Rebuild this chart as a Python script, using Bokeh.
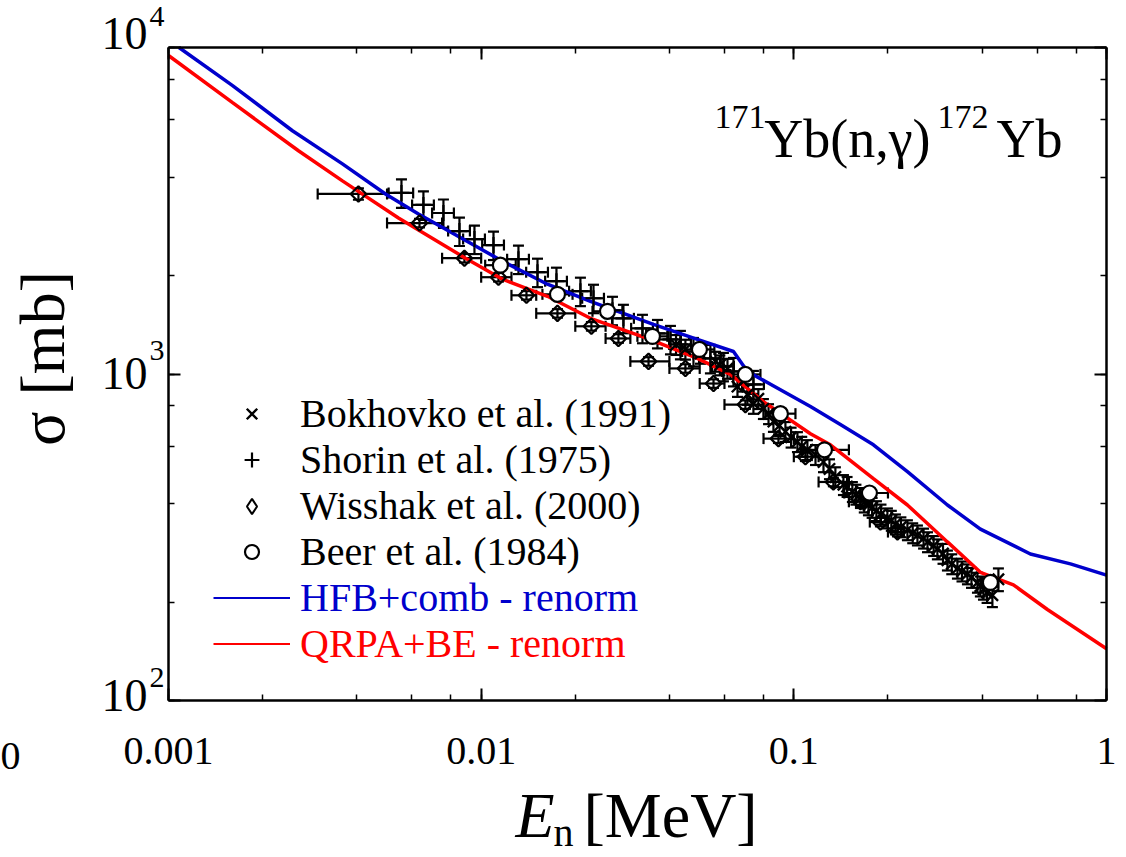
import math
from bokeh.plotting import figure
from bokeh.models import (ColumnDataSource, Whisker, TeeHead, LogAxis, CustomJSTickFormatter,
                          Label, Legend, LegendItem, Range1d)
from bokeh.embed import file_html
from bokeh.resources import INLINE

FONT = "Liberation Serif"
BLUE = "#0000CC"
RED = "#FF0000"

# ---------------- data ----------------
# model curves
hfb_e = [0.00108, 0.001603, 0.002491, 0.0036, 0.004943, 0.006302, 0.0117, 0.01629, 0.02236,
         0.03556, 0.04915, 0.06411, 0.07105, 0.113, 0.1409, 0.1797, 0.2308, 0.3099, 0.3951,
         0.5709, 0.7668, 1.0]
hfb_sigma = [10000, 7640, 5559, 4401, 3560, 3090, 2216, 1884, 1670, 1419, 1276, 1172, 1018,
             795, 700, 607, 502, 397, 335, 281, 262, 242]

qrpa_e = [0.001, 0.001603, 0.002604, 0.0036, 0.005439, 0.008909, 0.0117, 0.01629, 0.02236,
          0.03402, 0.04915, 0.06271, 0.07993, 0.113, 0.1309, 0.1797, 0.2308, 0.3099, 0.3951,
          0.5038, 0.6471, 1.0]
qrpa_sigma = [9450, 6777, 4827, 3904, 3004, 2263, 1951, 1730, 1481, 1285, 1116, 997, 823,
              656, 607, 478, 397, 306, 247, 226, 190, 144]

# Bokhovko et al. (1991)
bok_e = [0.04200, 0.04500, 0.05028, 0.05615, 0.05800, 0.06134, 0.06603, 0.06900, 0.07105,
         0.07426, 0.07700, 0.07993, 0.08300, 0.08605, 0.09000, 0.09399, 0.09800, 0.1027,
         0.1060, 0.1105, 0.1173, 0.1244, 0.1300, 0.1358, 0.1441, 0.1480, 0.1539, 0.1580,
         0.1633, 0.1680, 0.1732, 0.1780, 0.1837, 0.1900, 0.1992, 0.2050, 0.2113, 0.2200,
         0.2308, 0.2400, 0.2485, 0.2600, 0.2676, 0.2800, 0.2878, 0.3000, 0.3099, 0.3200,
         0.3336, 0.3450, 0.3591, 0.3700, 0.3866, 0.3950, 0.4041, 0.4150, 0.4316, 0.4511]
bok_sigma = [1230, 1190, 1156, 1093, 1065, 1040, 915, 950, 865,
             812, 840, 783, 755, 715, 695, 666, 640, 620,
             600, 586, 566, 538, 512, 484, 458, 452, 436, 428,
             418, 405, 397, 390, 381, 372, 362, 356, 347, 340,
             333, 326, 321, 314, 306, 298, 291, 282, 269, 262,
             254, 249, 244, 238, 230, 224, 219, 214, 210, 235]
bok_dsig_rel = [0.07, 0.07, 0.07, 0.07, 0.07, 0.07, 0.07, 0.07, 0.07,
                0.07, 0.07, 0.07, 0.07, 0.07, 0.07, 0.07, 0.07, 0.07,
                0.07, 0.07, 0.07, 0.07, 0.07, 0.07, 0.07, 0.07, 0.07, 0.07,
                0.07, 0.07, 0.07, 0.07, 0.07, 0.07, 0.07, 0.07, 0.07, 0.07,
                0.07, 0.07, 0.07, 0.07, 0.07, 0.07, 0.07, 0.07, 0.07, 0.07,
                0.07, 0.07, 0.07, 0.07, 0.07, 0.07, 0.07, 0.07, 0.08, 0.08]

# Shorin et al. (1975)
sho_e = [0.00556, 0.006536, 0.007574, 0.008522, 0.009518, 0.01095, 0.01316, 0.01514,
         0.01741, 0.02077, 0.02287, 0.0263, 0.02851, 0.0328, 0.03663, 0.04031, 0.04338,
         0.04775, 0.0541, 0.05955, 0.06411, 0.07426]
sho_sigma = [3585, 3294, 3112, 2740, 2589, 2482, 2248, 2050, 1924, 1793, 1706, 1567, 1481,
             1380, 1331, 1276, 1232, 1172, 1116, 1055, 1018, 929]
sho_de_rel = [0.09, 0.08, 0.08, 0.08, 0.08, 0.08, 0.08, 0.08, 0.08, 0.08, 0.08, 0.08, 0.08,
              0.08, 0.08, 0.08, 0.08, 0.08, 0.08, 0.08, 0.08, 0.08]
sho_dsig_rel = [0.10, 0.10, 0.10, 0.10, 0.10, 0.10, 0.10, 0.10, 0.10, 0.10, 0.10, 0.10,
                0.10, 0.10, 0.10, 0.10, 0.10, 0.10, 0.10, 0.10, 0.10, 0.10]

# Wisshak et al. (2000)
wis_e = [0.00405, 0.00635, 0.00884, 0.01136, 0.01396, 0.01754, 0.02252, 0.02748, 0.0343,
         0.0450, 0.05535, 0.0700, 0.0893, 0.1089, 0.1338, 0.1633, 0.1892, 0.2145]
wis_sigma = [3560, 2900, 2263, 1979, 1742, 1534, 1400, 1285, 1093, 1040, 935, 806, 634, 558,
             467, 406, 352, 328]
wis_elo = [0.003, 0.005, 0.0075, 0.010, 0.0125, 0.015, 0.020, 0.025, 0.030, 0.040, 0.050,
           0.060, 0.080, 0.100, 0.120, 0.150, 0.175, 0.200]
wis_ehi = [0.005, 0.0075, 0.010, 0.0125, 0.015, 0.020, 0.025, 0.030, 0.040, 0.050, 0.060,
           0.080, 0.100, 0.120, 0.150, 0.175, 0.200, 0.225]
wis_dsig_rel = [0.04, 0.03, 0.03, 0.03, 0.03, 0.03, 0.03, 0.03, 0.03, 0.03, 0.03, 0.03,
                0.03, 0.03, 0.03, 0.03, 0.03, 0.03]

# Beer et al. (1984)
beer_e = [0.01152, 0.01754, 0.02535, 0.0353, 0.0499, 0.0700, 0.0906, 0.1253, 0.1745, 0.4253]
beer_sigma = [2154, 1754, 1556, 1304, 1189, 997, 756, 586, 432, 230]
beer_elo = [0.0103, 0.0157, 0.0227, 0.0316, 0.0447, 0.0627, 0.0811, 0.105, 0.145, 0.40]
beer_ehi = [0.0129, 0.0196, 0.0283, 0.0394, 0.0557, 0.0782, 0.1012, 0.150, 0.200, 0.45]

x_limits = [0.001, 1.0]
y_limits = [100.0, 10000.0]
y_tick_exps = ["2", "3", "4"]

# ---------------- geometry of the plot box on the page ----------------
W, H = 1126, 857
FL, FT, FR, FB = 168, 47, 1106, 700  # box edges in page pixels
dec_x = (FR - FL) / 3.0
dec_y = (FB - FT) / 2.0
x_view = (10 ** (-3 - FL / dec_x), 10 ** ((W - FR) / dec_x))
y_view = (10 ** (2 - (H - FB) / dec_y), 10 ** (4 + FT / dec_y))

p = figure(width=W, height=H, x_axis_type="log", y_axis_type="log",
           x_axis_location=None, y_axis_location=None,
           x_range=Range1d(*x_view), y_range=Range1d(*y_view),
           output_backend="svg", toolbar_location=None, min_border=0,
           background_fill_color="white", border_fill_color="white",
           outline_line_color=None)
p.grid.visible = False

empty_fmt = CustomJSTickFormatter(code="return '';")


def make_axis(loc, bounds, labels=False):
    ax = LogAxis(fixed_location=loc, bounds=bounds)
    ax.axis_line_color = "black"
    ax.axis_line_width = 2.5
    ax.major_tick_in = 12
    ax.major_tick_out = 0
    ax.minor_tick_in = 6
    ax.minor_tick_out = 0
    ax.major_tick_line_width = 2
    ax.minor_tick_line_width = 1.5
    ax.major_tick_line_color = "black"
    ax.minor_tick_line_color = "black"
    if labels:
        ax.formatter = CustomJSTickFormatter(
            code="return Number(tick.toPrecision(3)).toString();")
        ax.major_label_text_font = FONT
        ax.major_label_text_font_size = "40px"
        ax.major_label_text_color = "black"
        ax.major_label_standoff = 37
    else:
        ax.formatter = empty_fmt
        ax.major_label_standoff = 0
    return ax


p.add_layout(make_axis(y_limits[0], tuple(x_limits), labels=True), "below")
p.add_layout(make_axis(y_limits[1], tuple(x_limits)), "above")
p.add_layout(make_axis(x_limits[0], tuple(y_limits)), "left")
p.add_layout(make_axis(x_limits[1], tuple(y_limits)), "right")

# ---------------- model curves ----------------
p.line(hfb_e, hfb_sigma, line_color=BLUE, line_width=3.5)
p.line(qrpa_e, qrpa_sigma, line_color=RED, line_width=3.5)


# ---------------- error bars ----------------
def whisker(src, base, lo, hi, dim, head=11):
    w = Whisker(source=src, base=base, lower=lo, upper=hi, dimension=dim,
                line_color="black", line_width=2.2,
                upper_head=TeeHead(size=head, line_color="black", line_width=2.2),
                lower_head=TeeHead(size=head, line_color="black", line_width=2.2))
    p.add_layout(w)


bok_src = ColumnDataSource(dict(
    x=bok_e, y=bok_sigma,
    ylo=[s * (1 - r) for s, r in zip(bok_sigma, bok_dsig_rel)],
    yhi=[s * (1 + r) for s, r in zip(bok_sigma, bok_dsig_rel)]))
whisker(bok_src, "x", "ylo", "yhi", "height")

sho_src = ColumnDataSource(dict(
    x=sho_e, y=sho_sigma,
    xlo=[e * (1 - r) for e, r in zip(sho_e, sho_de_rel)],
    xhi=[e * (1 + r) for e, r in zip(sho_e, sho_de_rel)],
    ylo=[s * (1 - r) for s, r in zip(sho_sigma, sho_dsig_rel)],
    yhi=[s * (1 + r) for s, r in zip(sho_sigma, sho_dsig_rel)]))
whisker(sho_src, "x", "ylo", "yhi", "height")
whisker(sho_src, "y", "xlo", "xhi", "width")

wis_src = ColumnDataSource(dict(
    x=wis_e, y=wis_sigma, xlo=wis_elo, xhi=wis_ehi,
    ylo=[s * (1 - r) for s, r in zip(wis_sigma, wis_dsig_rel)],
    yhi=[s * (1 + r) for s, r in zip(wis_sigma, wis_dsig_rel)]))
whisker(wis_src, "y", "xlo", "xhi", "width")
whisker(wis_src, "x", "ylo", "yhi", "height")

beer_src = ColumnDataSource(dict(x=beer_e, y=beer_sigma, xlo=beer_elo, xhi=beer_ehi))
whisker(beer_src, "y", "xlo", "xhi", "width")

# ---------------- markers ----------------
r_bok = p.scatter("x", "y", source=bok_src, marker="x", size=16, line_color="black",
                  line_width=2.4)
r_sho = p.scatter("x", "y", source=sho_src, marker="cross", size=16, line_color="black",
                  line_width=2.2)
p.scatter("x", "y", source=wis_src, marker="square", size=11, angle=math.pi / 4,
          line_color="black", line_width=2.2, fill_color=None)
r_beer = p.scatter("x", "y", source=beer_src, marker="circle", size=15, line_color="black",
                   line_width=2.2, fill_color="white")

# legend proxies (placed left of the visible x span, so they are not drawn in the box)
proxy_x = [x_view[0] / 10, x_view[0] / 5]
proxy_y = [1000, 1000]
r_wis_leg = p.scatter(proxy_x[:1], proxy_y[:1], marker="diamond", size=10,
                      line_color="black", line_width=2, fill_color=None)
l_hfb = p.line(proxy_x, proxy_y, line_color=BLUE, line_width=2)
l_qrpa = p.line(proxy_x, proxy_y, line_color=RED, line_width=2)


def add_legend(label, renderer, center_y, h, color="black"):
    lg = Legend(items=[LegendItem(label=label, renderers=[renderer])],
                location=(213, (H - center_y) - h / 2),
                glyph_width=77, glyph_height=h, label_height=h, label_width=20,
                label_standoff=10, padding=0, margin=0, spacing=0,
                border_line_color=None, background_fill_alpha=0,
                label_text_font=FONT, label_text_font_size="40px",
                label_text_color=color)
    p.add_layout(lg, "center")


add_legend("Bokhovko et al. (1991)", r_bok, 418, 37)
add_legend("Shorin et al. (1975)", r_sho, 464, 37)
add_legend("Wisshak et al. (2000)", r_wis_leg, 510, 38)
add_legend("Beer et al. (1984)", r_beer, 557, 35)
add_legend("HFB+comb - renorm", l_hfb, 603, 35, BLUE)
add_legend("QRPA+BE - renorm", l_qrpa, 649, 35, RED)


# ---------------- text labels (page pixel positions) ----------------
def add_label(text, cx, cy, size, align="left", baseline="alphabetic", color="black",
              style="normal", angle=0.0):
    p.add_layout(Label(x=cx, y=H - cy, x_units="screen", y_units="screen",
                       text=text, text_font=FONT, text_font_size=f"{size}px",
                       text_align=align, text_baseline=baseline, text_color=color,
                       text_font_style=style, angle=angle))


# y tick labels 10^n
for base_y, exp_y, e in zip([695, 373, 33], [677, 350, 16], y_tick_exps):
    add_label("10", 147, base_y, 46, align="right")
    add_label(e, 149, exp_y, 30)

# axis titles
add_label("σ [mb]", 42, 358, 64, align="center", baseline="middle", angle=math.pi / 2)
add_label("E", 515, 815, 64, style="italic")
add_label("n", 553, 832, 40)
add_label("[MeV]", 583, 815, 64)
add_label("0", 0, 755, 40)

# reaction title
add_label("171", 765, 116, 34, align="right")
add_label("Yb(n,γ)", 930, 138, 54, align="right")
add_label("172", 937, 116, 34)
add_label("Yb", 1062, 138, 54, align="right")

open("out.html", "w").write(file_html(p, INLINE))
